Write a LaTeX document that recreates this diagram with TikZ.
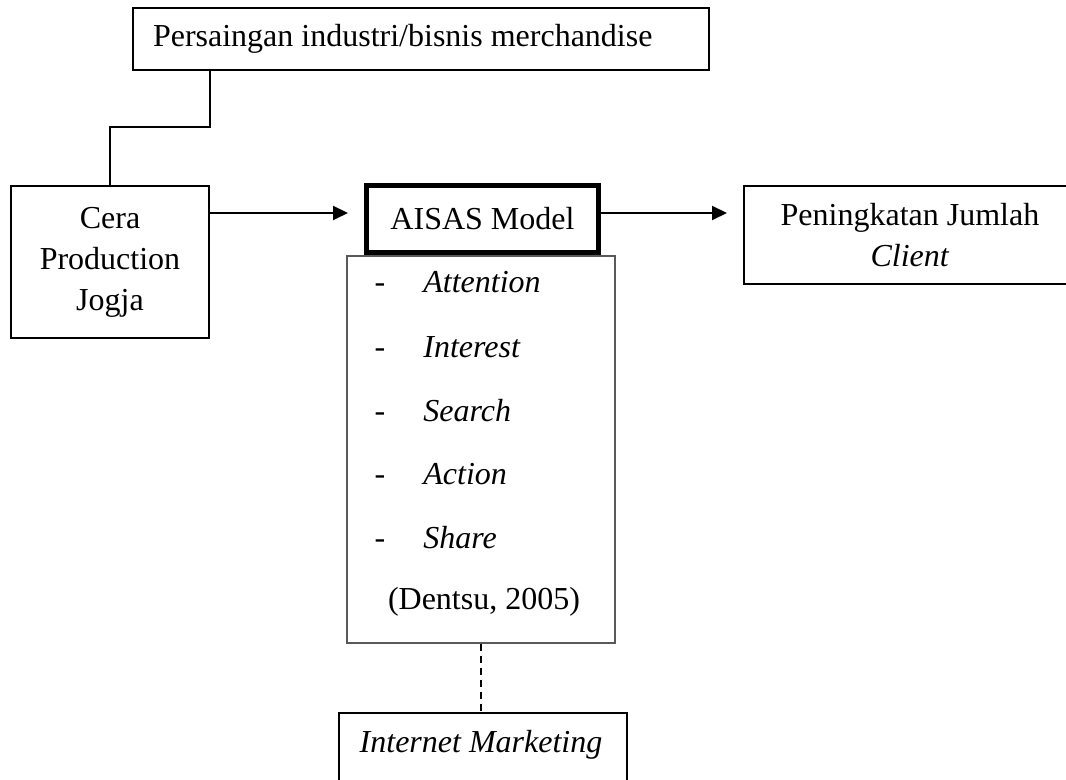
\documentclass[tikz,border=0pt]{standalone}
\usepackage{fontspec}
\setmainfont{Liberation Serif}
\usetikzlibrary{arrows.meta}
\begin{document}
\begin{tikzpicture}[x=0.5pt,y=-0.5pt,
  box/.style={draw, line width=1pt, inner sep=0pt, align=center, font=\fontsize{16}{20.5}\selectfont},
  txt/.style={inner sep=0pt, anchor=base west, font=\fontsize{16}{20.5}\selectfont},
  arr/.style={line width=1pt, -{Triangle[length=7.5pt,width=7pt]}, shorten >=8pt}]
\useasboundingbox (0,0) rectangle (1066,780);
% boxes
\node[box, minimum width=288pt, minimum height=31pt] (top) at (421,39) {\makebox[268pt][l]{Persaingan industri/bisnis merchandise}};
\node[box, minimum width=99pt, minimum height=76pt] (cera) at (110,262) {Cera\\Production\\Jogja};
\node[box, line width=2.5pt, minimum width=116pt, minimum height=33.5pt] (aisas) at (482.5,219) {AISAS Model};
\node[box, draw=black!65, line width=0.8pt, minimum width=134pt, minimum height=193.5pt] (list) at (481,449.5) {};
\node[box, minimum width=166pt, minimum height=49pt] (pen) at (910,235) {Peningkatan Jumlah\\\textit{Client}};
\node[box, minimum width=144pt, minimum height=50pt, anchor=north] (im) at (483,712) {};
\node[txt, anchor=base] (imt) at (481,752) {\textit{Internet Marketing}};
% list items
\foreach \w/\y [count=\i] in {Attention/293, Interest/358, Search/422, Action/485, Share/548}{
  \node[txt, anchor=base] (d\i) at (380,\y) {-};
  \node[txt] (l\i) at (423,\y) {\textit{\w}};
}
\node[txt, anchor=base] (dentsu) at (484,610) {(Dentsu, 2005)};
% connectors
\coordinate (c1) at (150,127);
\coordinate (ay) at (0,213);
\draw[line width=1pt] (top.south -| cera.east) |- (c1) -| (cera.north);
\draw[arr] (cera.east |- ay) -- (aisas.west |- ay);
\draw[arr] (aisas.east |- ay) -- (pen.west |- ay);
\draw[line width=1.2pt, dash pattern=on 3.5pt off 2.5pt] (list.south) -- (list.south |- im.north);
\end{tikzpicture}
\end{document}
